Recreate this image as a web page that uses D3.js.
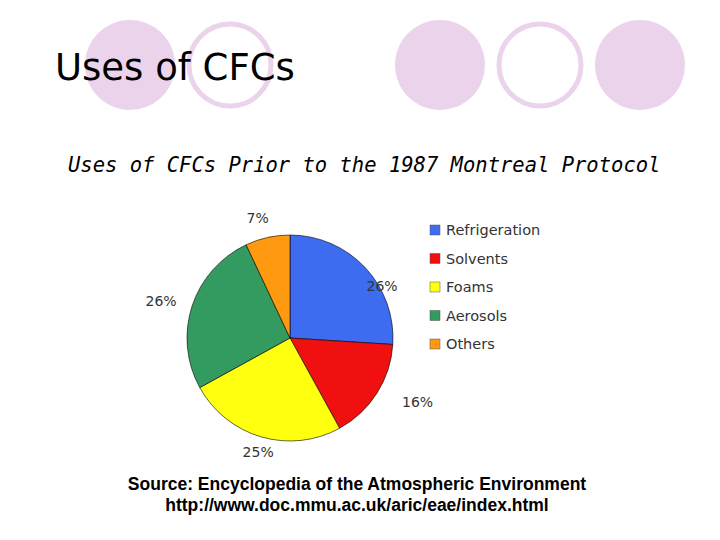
<!DOCTYPE html><html><head><meta charset="utf-8">
<script src="https://cdn.jsdelivr.net/npm/d3@7"></script>
<style>body{margin:0;background:#fff}</style></head><body>
<script>
const categories=["Refrigeration","Solvents","Foams","Aerosols","Others"];
const values=[26,16,25,26,7];
const labels=["26%","16%","25%","26%","7%"];
const colors=["#3d6cf0","#f01010","#ffff10","#339a60","#ff9a10"];
const svg=d3.select("body").append("svg").attr("width",720).attr("height",540);
[[130,65,1],[230,65,0],[440,65,1],[540,65,0],[640,65,1]].forEach(([x,y,f])=>{
 svg.append("circle").attr("cx",x).attr("cy",y).attr("r",f?45:41)
  .attr("fill",f?"#ebd3ec":"none").attr("stroke","#ebd3ec").attr("stroke-width",f?0:5);
});
svg.append("text").attr("x",55).attr("y",80).attr("font-family","DejaVu Sans").attr("font-size",37).text("Uses of CFCs");
svg.append("text").attr("x",68).attr("y",172).attr("font-family","DejaVu Sans Mono").attr("font-style","italic").attr("font-size",20.5).text("Uses of CFCs Prior to the 1987 Montreal Protocol");
const cx=290,cy=338,r=103;
const pie=d3.pie().sort(null)(values);
const arc=d3.arc().innerRadius(0).outerRadius(r);
const g=svg.append("g").attr("transform",`translate(${cx},${cy})`);
g.selectAll("path").data(pie).join("path").attr("d",arc).attr("fill",(d,i)=>colors[i]).attr("stroke","#000").attr("stroke-width",0.6);
const larc=d3.arc().innerRadius(r+22).outerRadius(r+22);
const adj=[[1,34],[22,-3],[3,-6],[-10,2],[-5,2]];
g.selectAll("text").data(pie).join("text").attr("text-anchor","middle").attr("dy","0.35em")
 .attr("transform",(d,i)=>{const c=larc.centroid(d);return `translate(${c[0]+adj[i][0]},${c[1]+adj[i][1]})`;})
 .attr("font-family","DejaVu Sans").attr("font-size",14).attr("fill","#333").text((d,i)=>labels[i]);
const lg=svg.append("g");
categories.forEach((c,i)=>{
 const y=230+i*28.5;
 lg.append("rect").attr("x",430).attr("y",y-5).attr("width",10).attr("height",10).attr("fill",colors[i]).attr("stroke","#555").attr("stroke-width",0.5);
 lg.append("text").attr("x",446).attr("y",y).attr("dy","0.35em").attr("font-family","DejaVu Sans").attr("font-size",14.5).attr("fill","#333").text(c);
});
svg.append("text").attr("x",357).attr("y",490).attr("text-anchor","middle").attr("font-family","Liberation Sans").attr("font-weight","bold").attr("font-size",17.5).text("Source: Encyclopedia of the Atmospheric Environment");
svg.append("text").attr("x",357).attr("y",511).attr("text-anchor","middle").attr("font-family","Liberation Sans").attr("font-weight","bold").attr("font-size",17.5).text("http://www.doc.mmu.ac.uk/aric/eae/index.html");
</script></body></html>
